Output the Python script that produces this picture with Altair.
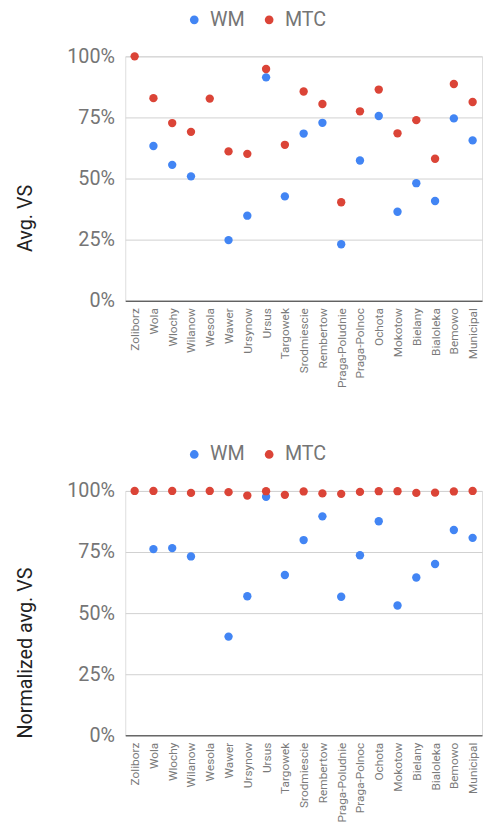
import altair as alt
import pandas as pd

districts = ["Zoliborz", "Wola", "Wlochy", "Wilanow", "Wesola", "Wawer", "Ursynow",
             "Ursus", "Targowek", "Srodmiescie", "Rembertow", "Praga-Poludnie",
             "Praga-Polnoc", "Ochota", "Mokotow", "Bielany", "Bialoleka", "Bemowo",
             "Municipal"]

wm_avg = [None, 63.3, 55.6, 50.9, None, 24.8, 34.8, 91.4, 42.7, 68.4, 72.8, 23.1,
          57.4, 75.6, 36.4, 48.1, 40.8, 74.6, 65.6]
mtc_avg = [100.0, 82.9, 72.7, 69.1, 82.7, 61.1, 60.1, 94.8, 63.8, 85.6, 80.5, 40.3,
           77.5, 86.4, 68.5, 73.9, 58.1, 88.7, 81.3]

wm_norm = [None, 76.2, 76.6, 73.2, None, 40.4, 56.9, 97.6, 65.6, 79.9, 89.6, 56.7,
           73.7, 87.6, 53.1, 64.6, 70.1, 84.0, 80.8]
mtc_norm = [100.0, 100.0, 100.0, 99.2, 100.0, 99.5, 98.1, 99.9, 98.4, 99.8, 99.0, 98.8,
            99.6, 99.9, 99.9, 99.2, 99.3, 99.8, 100.0]

series = ["WM", "MTC"]
colors = ["#4285F4", "#DB4437"]


def long_table(wm, mtc):
    rows = []
    for name, vals in (("WM", wm), ("MTC", mtc)):
        for d, v in zip(districts, vals):
            if v is not None:
                rows.append({"district": d, "series": name, "value": v / 100.0})
    return pd.DataFrame(rows)


def panel(df, title):
    return alt.Chart(df).mark_circle(size=72, opacity=1).encode(
        x=alt.X("district:N", sort=districts,
                scale=alt.Scale(paddingInner=0, paddingOuter=0),
                axis=alt.Axis(title=None, labelAngle=270, labelAlign="right",
                              labelBaseline="middle", labelFontSize=12,
                              labelColor="#7a7a7a", labelPadding=7, ticks=False,
                              domainColor="#333333", grid=False, labelFont="Roboto")),
        y=alt.Y("value:Q", scale=alt.Scale(domain=[0, 1]),
                axis=alt.Axis(title=title, format="%", values=[0, 0.25, 0.5, 0.75, 1],
                              labelFontSize=20, labelColor="#757575", labelPadding=11,
                              ticks=False, domain=False, gridColor="#d0d0d0",
                              titleFontSize=20, titleFontWeight="normal",
                              titleColor="#222222", titlePadding=32, titleY=164,
                              labelFont="Roboto", titleFont="Roboto")),
        color=alt.Color("series:N", sort=series,
                        scale=alt.Scale(domain=series, range=colors),
                        legend=alt.Legend(title=None, orient="none", legendX=60,
                                          legendY=-47, direction="horizontal",
                                          labelFontSize=20, labelColor="#757575",
                                          labelFont="Roboto", symbolSize=78,
                                          symbolType="circle", labelOffset=6,
                                          columnPadding=14, padding=0)),
    ).properties(width=362, height=248)


top = panel(long_table(wm_avg, mtc_avg), "Avg. VS")
bottom = panel(long_table(wm_norm, mtc_norm), "Normalized avg. VS")

chart = alt.vconcat(top, bottom, spacing=56).resolve_scale(color="independent").properties(
    padding={"left": 7, "top": -5, "right": 0, "bottom": 0}
).configure_view(stroke=None).configure(font="Roboto")

chart.save("out.html", embed_options={"renderer": "svg", "actions": False})
